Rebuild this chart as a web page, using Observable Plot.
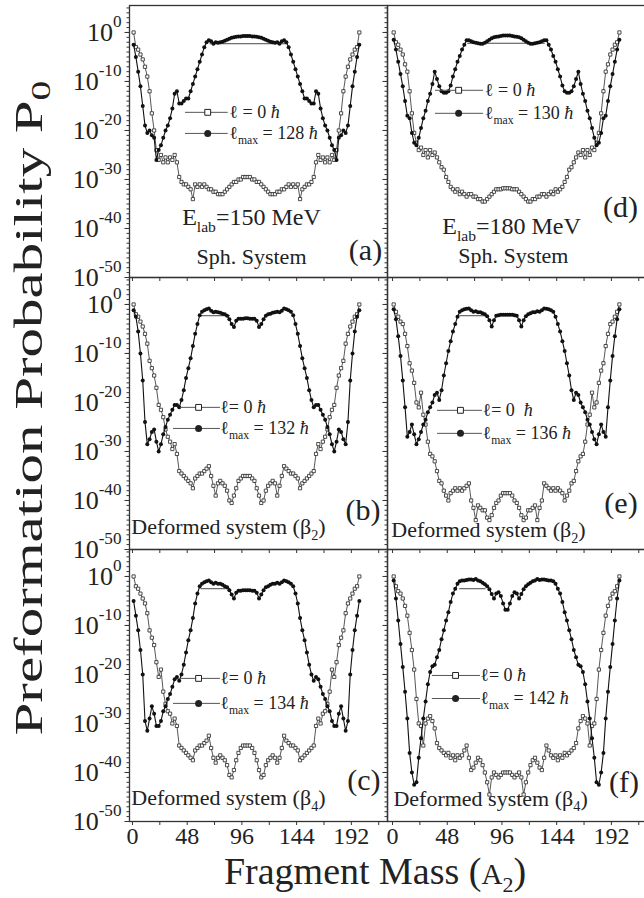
<!DOCTYPE html>
<html><head><meta charset="utf-8">
<script src="https://cdn.jsdelivr.net/npm/d3@7"></script>
<script src="https://cdn.jsdelivr.net/npm/@observablehq/plot@0.6"></script>
<style>
html,body{margin:0;padding:0;background:#fff;}
#root{position:relative;width:644px;height:898px;overflow:hidden;background:#fff;font-family:'Liberation Serif','Times New Roman',Times,serif;}
#root svg, #root text{font-family:'Liberation Serif','Times New Roman',Times,serif !important;}
.cell{position:absolute;}
</style></head><body><div id="root"></div>
<script>
// ---------- DATA (log10 of P0, at fragment mass A2 = 1,3,...,199) ----------
const A2 = [1,3,5,7,9,11,13,15,17,19,21,23,25,27,29,31,33,35,37,39,41,43,45,47,49,51,53,55,57,59,61,63,65,67,69,71,73,75,77,79,81,83,85,87,89,91,93,95,97,99,
101,103,105,107,109,111,113,115,117,119,121,123,125,127,129,131,133,135,137,139,141,143,145,147,149,151,153,155,157,159,161,163,165,167,169,171,173,175,177,179,181,183,185,187,189,191,193,195,197,199];

const logP_l0_a = [0,-3,-3.5,-4.5,-5.5,-7,-9,-12,-16.5,-20, -24,-26,-25,-26.5,-25.5,-26.5,-25.5,-26,-25,-26.5, -29.5,-30.5,-31,-31,-31.5,-32,-34,-31,-31.5,-31, -31.5,-31,-31.5,-32,-32,-32.5,-32.5,-33,-33,-33, -32.5,-32,-31.5,-31,-30.5,-30.5,-30,-30,-29.5,-29.5,
 -29.5,-29.5,-30,-30,-30.5,-30.5,-31,-31.5,-32,-32.5, -33,-33,-33,-32.5,-32.5,-32,-32,-31.5,-31,-31.5, -31,-31.5,-31,-34,-32,-31.5,-31,-31,-30.5,-29.5, -26.5,-25,-26,-25.5,-26.5,-25.5,-26.5,-25,-26,-24, -20,-16.5,-12,-9,-7,-5.5,-4.5,-3.5,-3,0];
const logP_lmax_a = [-2.5,-5,-8,-11,-15,-19,-20.5,-20,-21,-21.5, -26,-24,-23,-21.5,-20,-19,-17.5,-15.5,-12.5,-12, -14.5,-14.5,-14,-13.5,-13.5,-12,-10.5,-9,-7.5,-6, -4.5,-3,-2,-1.6,-1.8,-2.3,-2,-2.1,-2,-1.9, -1.7,-1.5,-1.3,-1.1,-1,-0.9,-0.8,-0.8,-0.7,-0.7,
 -0.7,-0.7,-0.8,-0.8,-0.9,-1,-1.1,-1.3,-1.5,-1.7, -1.9,-2,-2.1,-2,-2.3,-1.8,-1.6,-2,-3,-4.5, -6,-7.5,-9,-10.5,-12,-13.5,-13.5,-14,-14.5,-14.5, -12,-12.5,-15.5,-17.5,-19,-20,-21.5,-23,-24,-26, -21.5,-21,-20,-20.5,-19,-15,-11,-8,-5,-2.5];

const logP_l0_b = [0,-2,-2.5,-3.5,-4.5,-6,-8,-11.5,-13,-14.5, -17,-20.5,-21.5,-23,-25.5,-27,-28,-29.5,-28.5,-30.5, -34,-34.5,-35,-35.5,-36,-36.5,-37.5,-35.5,-35,-34.5, -34.5,-34,-33.5,-33,-35,-37,-39,-36.5,-36,-36.5, -37,-38,-40,-40.5,-39,-37.5,-36,-35.5,-35,-35,
 -35,-35,-35.5,-36,-37.5,-39,-40.5,-40,-38,-37, -36.5,-36,-36.5,-39,-37,-35,-33,-33.5,-34,-34.5, -34.5,-35,-35.5,-37.5,-36.5,-36,-35.5,-35,-34.5,-34, -30.5,-28.5,-29.5,-28,-27,-25.5,-23,-21.5,-20.5,-17, -14.5,-13,-11.5,-8,-6,-4.5,-3.5,-2.5,-2,0];
const logP_lmax_b = [-1.2,-2.5,-5.5,-10,-15.5,-24,-28.5,-27.5,-26,-25.5, -28,-30,-28.5,-26.5,-25,-23.5,-22.5,-21.5,-20.5,-20.5, -21,-19.5,-17.5,-15,-13,-11,-8.5,-6,-4,-2.2, -1.5,-1.2,-1,-0.8,-1.3,-1.6,-1.5,-1.6,-1.7,-1.9, -2,-2.3,-3,-4,-4.6,-3.3,-2.9,-2.9,-2.9,-2.8,
 -2.8,-2.9,-2.9,-2.9,-3.3,-4.6,-4,-3,-2.3,-2, -1.9,-1.7,-1.6,-1.5,-1.6,-1.3,-0.8,-1,-1.2,-1.5, -2.2,-4,-6,-8.5,-11,-13,-15,-17.5,-19.5,-21, -20.5,-20.5,-21.5,-22.5,-23.5,-25,-26.5,-28.5,-30,-28, -25.5,-26,-27.5,-28.5,-24,-15.5,-10,-5.5,-2.5,-1.2];

const logP_l0_c = [0,-2,-2.5,-3.5,-4.5,-5.5,-7.5,-11,-12.5,-14, -17.5,-20.5,-19,-23.5,-26,-27.5,-28,-30,-29,-30.5, -34.5,-35,-35.5,-36,-36.5,-37,-37.5,-35.5,-35,-34.5, -34.5,-34,-33.5,-32.5,-35,-37,-38,-37,-36.5,-37, -37.5,-38.5,-40.5,-41,-39.5,-37.5,-36,-35,-34.5,-34.5,
 -34.5,-34.5,-35,-36,-37.5,-39.5,-41,-40.5,-38.5,-37.5, -37,-36.5,-37,-38,-37,-35,-32.5,-33.5,-34,-34.5, -34.5,-35,-35.5,-37.5,-37,-36.5,-36,-35.5,-35,-34.5, -30.5,-29,-30,-28,-27.5,-26,-23.5,-19,-20.5,-17.5, -14,-12.5,-11,-7.5,-5.5,-4.5,-3.5,-2.5,-2,0];
const logP_lmax_c = [-5,-8,-11,-15,-20,-29.5,-31.5,-29,-26.5,-28, -30.5,-30.5,-29.5,-27.5,-26.5,-25,-24,-22.5,-21,-20.5, -21.3,-20,-18,-15.5,-13,-11,-8.5,-5.5,-3.5,-2, -1.5,-1.2,-1,-0.8,-1.2,-1.5,-1.3,-1.5,-1.5,-1.7, -2,-2.2,-2.8,-3.7,-4.5,-3.3,-2.9,-2.9,-2.8,-2.8,
 -2.8,-2.8,-2.9,-2.9,-3.3,-4.5,-3.7,-2.8,-2.2,-2, -1.7,-1.5,-1.5,-1.3,-1.5,-1.2,-0.8,-1,-1.2,-1.5, -2,-3.5,-5.5,-8.5,-11,-13,-15.5,-18,-20,-21.3, -20.5,-21,-22.5,-24,-25,-26.5,-27.5,-29.5,-30.5,-30.5, -28,-26.5,-29,-31.5,-29.5,-20,-15,-11,-8,-5];

const logP_l0_d = [0,-2,-2.5,-3.5,-4.5,-6.5,-8,-12,-16.5,-20.5, -22.5,-24,-23.5,-25,-24,-25.5,-24,-25,-24.5,-25.5, -26.5,-27.5,-28,-29.5,-30.5,-31.5,-32,-32.5,-32,-33, -32.5,-33,-33.5,-33,-33,-33.5,-33.5,-34,-34,-34.5, -34.5,-34,-33.5,-33,-32.5,-32,-32,-32,-31.8,-31.8,
 -31.8,-31.8,-32,-32,-32,-32.5,-33,-33.5,-34,-34.5, -34.5,-34,-34,-33.5,-33.5,-33,-33,-33.5,-33,-32.5, -33,-32,-32.5,-32,-31.5,-30.5,-29.5,-28,-27.5,-26.5, -25.5,-24.5,-25,-24,-25.5,-24,-25,-23.5,-24,-22.5, -20.5,-16.5,-12,-8,-6.5,-4.5,-3.5,-2.5,-2,0];
const logP_lmax_d = [-1.5,-3.5,-6,-8.5,-11,-14,-17,-17.5,-20.5,-22.5, -23,-21.5,-19.5,-17.5,-16,-14,-12.5,-10.5,-8,-9.5, -11,-12,-12.3,-12.3,-12,-10.8,-9,-7.5,-6,-4.8, -3.5,-2.5,-1.6,-1.6,-1.8,-2,-2.1,-2.2,-2.3,-2.3, -2.1,-1.8,-1.5,-1.2,-1,-0.9,-0.8,-0.7,-0.6,-0.6,
 -0.6,-0.6,-0.7,-0.8,-0.9,-1,-1.2,-1.5,-1.8,-2.1, -2.3,-2.3,-2.2,-2.1,-2,-1.8,-1.6,-1.6,-2.5,-3.5, -4.8,-6,-7.5,-9,-10.8,-12,-12.3,-12.3,-12,-11, -9.5,-8,-10.5,-12.5,-14,-16,-17.5,-19.5,-21.5,-23, -22.5,-20.5,-17.5,-17,-14,-11,-8.5,-6,-3.5,-1.5];

const logP_l0_e = [0,-1.5,-2.5,-3.5,-4,-6,-8.5,-12,-13.5,-16, -20,-21,-18,-22.5,-24.5,-28,-30.5,-31,-32,-34, -36,-36.5,-38,-39,-40,-38.5,-38,-37.5,-38,-37.5, -38,-37.5,-37,-36.5,-40,-41.5,-44,-41,-41.5,-42, -42,-43.5,-44,-43,-41.5,-40.5,-40,-39,-38.5,-38.5,
 -38.5,-38.5,-39,-40,-40.5,-41.5,-43,-44,-43.5,-42, -42,-41.5,-41,-44,-41.5,-40,-36.5,-37,-37.5,-38, -37.5,-38,-37.5,-38,-38.5,-40,-39,-38,-36.5,-36, -34,-32,-31,-30.5,-28,-24.5,-22.5,-18,-21,-20, -16,-13.5,-12,-8.5,-6,-4,-3.5,-2.5,-1.5,0];
const logP_lmax_e = [-1,-3,-6.5,-10.5,-15.5,-21,-27,-26,-24.5,-26.5, -28.5,-27.5,-26,-24.5,-23.5,-22,-21,-20,-18.5,-18, -19.5,-17.5,-14.5,-12,-9.5,-7.5,-5.5,-4,-2.5,-1.5, -1.2,-1,-0.9,-0.8,-1.2,-1.5,-1.4,-1.6,-1.6,-1.8, -2,-2.4,-3.2,-4.5,-3.2,-2.3,-2.2,-2.1,-2.1,-2.1,
 -2.1,-2.1,-2.1,-2.2,-2.3,-3.2,-4.5,-3.2,-2.4,-2, -1.8,-1.6,-1.6,-1.4,-1.5,-1.2,-0.8,-0.9,-1,-1.2, -1.5,-2.5,-4,-5.5,-7.5,-9.5,-12,-14.5,-17.5,-19.5, -18,-18.5,-20,-21,-22,-23.5,-24.5,-26,-27.5,-28.5, -26.5,-24.5,-26,-27,-21,-15.5,-10.5,-6.5,-3,-1];

const logP_l0_f = [0,-2,-3,-3.5,-4.5,-6,-8,-11.5,-15,-19, -25,-30,-30.5,-34.5,-30,-29,-28.5,-29.5,-31,-34, -35,-35.5,-36,-36.5,-36,-37,-36.5,-37.5,-36.5,-37, -36.5,-35.5,-34.5,-37,-39.5,-39,-38,-37,-37.5,-38.5, -40,-42,-44.5,-41,-40,-40.5,-41,-40.5,-40,-40,
 -40,-40,-40.5,-41,-40.5,-40,-41,-44.5,-42,-40, -38.5,-37.5,-37,-38,-39,-39.5,-37,-34.5,-35.5,-36.5, -37,-36.5,-37.5,-36.5,-37,-36,-36.5,-36,-35.5,-35, -34,-31,-29.5,-28.5,-29,-30,-34.5,-30.5,-30,-25, -19,-15,-11.5,-8,-6,-4.5,-3.5,-3,-2,0];
const logP_lmax_f = [-0.8,-4.5,-9,-13.8,-18.5,-23.5,-29,-36,-40,-42.5, -42,-37,-33,-29,-25.5,-22,-19.5,-18.3,-18,-16.5, -15,-12.8,-11,-9,-7.3,-5.2,-3.5,-2.5,-1.5,-1, -0.8,-0.8,-0.7,-0.6,-0.6,-0.7,-0.5,-0.8,-1,-1.3, -1.6,-2,-2.6,-3.6,-4.5,-3.5,-3.2,-4,-5.5,-6.8,
 -6.8,-5.5,-4,-3.2,-3.5,-4.5,-3.6,-2.6,-2,-1.6, -1.3,-1,-0.8,-0.5,-0.7,-0.6,-0.6,-0.7,-0.8,-0.8, -1,-1.5,-2.5,-3.5,-5.2,-7.3,-9,-11,-12.8,-15, -16.5,-18,-18.3,-19.5,-22,-25.5,-29,-33,-37,-42, -42.5,-40,-36,-29,-23.5,-18.5,-13.8,-9,-4.5,-0.8];

// thin horizontal segment across the plateau: [A from, A to, log10 P0]
const chord_a = [68,136,-2.3], chord_b = [60,86,-2.3], chord_c = [60,86,-2.5];
const chord_d = [66,134,-2.2], chord_e = [59,82,-2.3], chord_f = [59,82,-2.5];

const lmaxLabels = {a:"128", b:"132", c:"134", d:"130", e:"136", f:"142"};
const yTickExponents = [0,-10,-20,-30,-40,-50];
const massTickLabels = [0,48,96,144,192];
const massMinorTicks = [0,24,48,72,96,120,144,168,192,216];

// ---------- LAYOUT (annotation anchors in data units, sizes) ----------
const layout = {
  a:{col:0,row:0, leg:{x1a:46.5,x1b:46.5,x2:84,xm:66,xt:85,y1:-16.3,y2:-20.6,t1:"ℓ = 0 ~{ħ}"}, tag:[204.4,-44.5],
     notes:[["E_{lab}=150 MeV",104.4,-37.8,24],["Sph. System",104.4,-45.9,22]]},
  d:{col:1,row:0, leg:{x1a:37.7,x1b:37.7,x2:79.8,xm:58,xt:81,y1:-11.8,y2:-16.5,t1:"ℓ = 0 ~{ħ}"}, tag:[200,-35.7],
     notes:[["E_{lab}=180 MeV",104.4,-39.6,24],["Sph. System",106,-45.6,22]]},
  b:{col:0,row:1, leg:{x1a:42,x1b:36,x2:77.2,xm:58,xt:77,y1:-21,y2:-25.3,t1:"ℓ= 0 ~{ħ}"}, tag:[202.2,-42],
     notes:[["Deformed system (β_{2})",84.2,-45.5,22]]},
  e:{col:1,row:1, leg:{x1a:39.5,x1b:39.5,x2:78.9,xm:59.6,xt:79,y1:-21.6,y2:-26.3,t1:"ℓ= 0  ~{ħ}"}, tag:[200.4,-40.6],
     notes:[["Deformed system (β_{2})",84.2,-46.1,22]]},
  c:{col:0,row:2, leg:{x1a:42,x1b:36,x2:77.2,xm:58,xt:77,y1:-20.8,y2:-25.9,t1:"ℓ= 0 ~{ħ}"}, tag:[203,-41.6],
     notes:[["Deformed system (β_{4})",84.2,-45.1,22]]},
  f:{col:1,row:2, leg:{x1a:35,x1b:35,x2:77.2,xm:55.3,xt:77,y1:-20.2,y2:-24.9,t1:"ℓ= 0 ~{ħ}"}, tag:[203,-42],
     notes:[["Deformed system (β_{4})",86,-45.3,22]]}
};
const series = {
  a:[logP_l0_a, logP_lmax_a, chord_a], b:[logP_l0_b, logP_lmax_b, chord_b], c:[logP_l0_c, logP_lmax_c, chord_c],
  d:[logP_l0_d, logP_lmax_d, chord_d], e:[logP_l0_e, logP_lmax_e, chord_e], f:[logP_l0_f, logP_lmax_f, chord_f]
};

// ---------- helpers ----------
const FONT = "'Liberation Serif','Times New Roman',Times,serif";
const NS = "http://www.w3.org/2000/svg";
function rich(root) {
  root.querySelectorAll("text").forEach(t => {
    const s = t.textContent;
    if (!/[_^~]\{/.test(s)) return;
    t.textContent = "";
    const re = /([_^~])\{([^}]*)\}/g;
    let last = 0, m;
    const add = (str, kind) => {
      if (!str) return;
      const ts = document.createElementNS(NS, "tspan");
      ts.textContent = str;
      if (kind === "^") { ts.setAttribute("font-size", "66%"); ts.setAttribute("baseline-shift", "0.8em"); }
      else if (kind === "_") { ts.setAttribute("font-size", "65%"); ts.setAttribute("baseline-shift", "-0.45em"); }
      else if (kind === "~") { ts.setAttribute("font-style", "italic"); }
      t.appendChild(ts);
    };
    while ((m = re.exec(s))) { add(s.slice(last, m.index)); add(m[2], m[1]); last = re.lastIndex; }
    add(s.slice(last));
  });
}

const root = document.getElementById("root");
const PW = 258, PH = 272;
const rowTop = [5, 277, 549];
const colLeft = [0, 387];
const yMinor = d3.range(-50, 6).map(e => 10 ** e);
const yMajor = yTickExponents.map(e => 10 ** e);
const ink = "#222";

for (const key of ["a","b","c","d","e","f"]) {
  const L = layout[key];
  const [l0, lm, chord] = series[key];
  const left = L.col === 0, bottom = L.row === 2;
  const mL = left ? 129 : 0, mB = bottom ? 46 : 0;
  const t0 = A2.map((a, i) => ({A: a, P: 10 ** l0[i]}));
  const tm = A2.map((a, i) => ({A: a, P: 10 ** lm[i]}));
  const g = L.leg;
  const marks = [
    Plot.frame({stroke: "#333", strokeWidth: 1.3}),
    Plot.axisY(yMinor, {tickSize: 2.5, tickFormat: () => "", label: null, stroke: "#333"}),
    Plot.axisY(yMajor, {tickSize: 4.5, tickFormat: () => "", label: null, stroke: "#333"}),
    Plot.axisX(massMinorTicks, {anchor: "bottom", tickSize: 4, tickFormat: () => "", label: null, stroke: "#333"}),
    Plot.ruleY([chord], {y: d => 10 ** d[2], x1: d => d[0], x2: d => d[1], stroke: "#333", strokeWidth: 0.9}),
    Plot.line(t0, {x: "A", y: "P", stroke: "#444", strokeWidth: 0.9}),
    Plot.dot(t0, {x: "A", y: "P", symbol: "square", r: 1.8, fill: "white", stroke: "#222", strokeWidth: 0.8}),
    Plot.line(tm, {x: "A", y: "P", stroke: "#111", strokeWidth: 1.1}),
    Plot.dot(tm, {x: "A", y: "P", r: 2, fill: "#111", stroke: "none"}),
    // legend
    Plot.ruleY([g], {y: d => 10 ** d.y1, x1: d => d.x1a, x2: d => d.x2, stroke: "#555", strokeWidth: 1}),
    Plot.ruleY([g], {y: d => 10 ** d.y2, x1: d => d.x1b, x2: d => d.x2, stroke: "#555", strokeWidth: 1}),
    Plot.dot([g], {x: d => d.xm, y: d => 10 ** d.y1, symbol: "square", r: 3.3, fill: "white", stroke: ink, strokeWidth: 1}),
    Plot.dot([g], {x: d => d.xm, y: d => 10 ** d.y2, r: 3.5, fill: ink, stroke: "none"}),
    Plot.text([g], {x: d => d.xt, y: d => 10 ** d.y1, text: d => d.t1, textAnchor: "start", lineAnchor: "middle", fontSize: 18, fill: ink}),
    Plot.text([g], {x: d => d.xt, y: d => 10 ** d.y2, text: () => `ℓ_{max} = ${lmaxLabels[key]} ~{ħ}`, textAnchor: "start", lineAnchor: "middle", fontSize: 18, fill: ink}),
    // panel tag and notes
    Plot.text([L.tag], {x: d => d[0], y: d => 10 ** d[1], text: () => `(${key})`, fontSize: 30, lineAnchor: "middle", fill: ink}),
    ...L.notes.map(n => Plot.text([n], {x: d => d[1], y: d => 10 ** d[2], text: d => d[0], fontSize: n[3], lineAnchor: "middle", fill: ink}))
  ];
  if (left) {
    marks.push(Plot.axisY(yMajor, {tickSize: 0, tickPadding: 8, fontSize: 26, label: null, fill: ink,
      tickFormat: d => `10^{${Math.round(Math.log10(d))}}`}));
  }
  if (bottom) {
    marks.push(Plot.axisX(massTickLabels, {anchor: "bottom", tickSize: 0, tickPadding: 5, fontSize: 24, label: null, fill: ink}));
  }
  const svg = Plot.plot({
    width: mL + PW, height: PH + mB,
    marginLeft: mL, marginRight: 0, marginTop: 0, marginBottom: mB,
    x: {domain: left ? [-2.6, 223.7] : [-4.4, 221.9]},
    y: {type: "log", domain: [1e-50, 10 ** 5.5]},
    style: {fontFamily: FONT, overflow: "visible", background: "transparent", color: ink},
    marks
  });
  rich(svg);
  const cell = document.createElement("div");
  cell.className = "cell";
  cell.style.left = colLeft[L.col] + "px";
  cell.style.top = rowTop[L.row] + "px";
  cell.style.width = (mL + PW) + "px";
  cell.appendChild(svg);
  root.appendChild(cell);
}

// ---------- axis titles ----------
const over = d3.select(root).append("svg")
  .attr("width", 644).attr("height", 898)
  .style("position", "absolute").style("left", 0).style("top", 0).style("pointer-events", "none")
  .attr("font-family", FONT);
const yt = over.append("text")
  .attr("transform", "translate(42,408) rotate(-90)")
  .attr("text-anchor", "middle").attr("font-size", 40).attr("fill", ink)
  .attr("textLength", 655).attr("lengthAdjust", "spacingAndGlyphs");
yt.append("tspan").text("Preformation Probability P");
yt.append("tspan").attr("font-size", 27).attr("baseline-shift", "-0.3em").text("0");
const xt = over.append("text")
  .attr("x", 375).attr("y", 884).attr("text-anchor", "middle").attr("font-size", 38).attr("fill", ink);
xt.append("tspan").text("Fragment Mass (");
xt.append("tspan").attr("font-size", 29).text("A");
xt.append("tspan").attr("font-size", 22).attr("baseline-shift", "-0.35em").text("2");
xt.append("tspan").text(")");
</script>
</body></html>
